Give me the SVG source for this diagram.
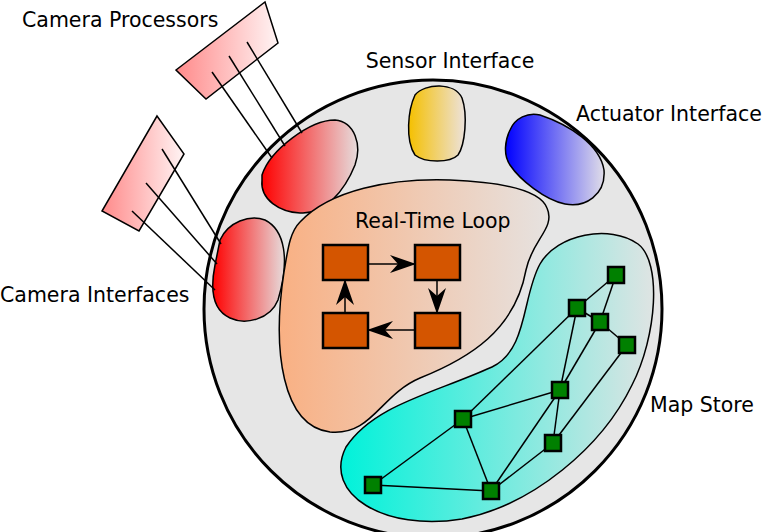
<svg xmlns="http://www.w3.org/2000/svg" width="763" height="532" viewBox="0 0 763 532">
<defs>
<linearGradient id="gRed" x1="0" y1="0" x2="1" y2="0"><stop offset="0" stop-color="#ff0000"/><stop offset="1" stop-color="#e6dcdc"/></linearGradient>
<linearGradient id="gPink" x1="0" y1="0" x2="1" y2="0"><stop offset="0" stop-color="#ff8a8a"/><stop offset="1" stop-color="#fff4f4"/></linearGradient>
<linearGradient id="gYel" x1="0" y1="0" x2="1" y2="0"><stop offset="0" stop-color="#f5c000"/><stop offset="1" stop-color="#ece2dc"/></linearGradient>
<linearGradient id="gBlue" x1="0" y1="0" x2="1" y2="0"><stop offset="0" stop-color="#0000ff"/><stop offset="1" stop-color="#e0dde8"/></linearGradient>
<linearGradient id="gOr" x1="0" y1="0" x2="1" y2="0"><stop offset="0" stop-color="#f9b083"/><stop offset="1" stop-color="#e6e2e0"/></linearGradient>
<linearGradient id="gCy" x1="0" y1="0" x2="1" y2="0"><stop offset="0" stop-color="#00f2da"/><stop offset="1" stop-color="#dfe4e3"/></linearGradient>
<marker id="ah" viewBox="0 0 26 18" refX="25" refY="9" markerWidth="26" markerHeight="18" markerUnits="userSpaceOnUse" orient="auto"><path d="M0,0 L26,9 L0,18 L8,9 Z" fill="#000"/></marker>
</defs>
<style>
text{font-family:"DejaVu Sans",sans-serif;font-size:20.5px;fill:#000}
.o{stroke:#000;stroke-width:1.5}
.sq{fill:#d45500;stroke:#000;stroke-width:2.5}
.gn{fill:#008000;stroke:#000;stroke-width:2.5}
.ln{stroke:#000;stroke-width:1.5;fill:none}
</style>
<g id="body"><circle cx="433" cy="309" r="229" fill="#e6e6e6" stroke="#000" stroke-width="3"/></g>
<g id="processor1"><polygon class="o" points="176,70 265,2 278,43 206,99" fill="url(#gPink)"/></g>
<g id="processor2"><polygon class="o" points="157,116 184,154 139,231 102,211" fill="url(#gPink)"/></g>
<g id="cam1"><path class="o" fill="url(#gRed)" d="M262,175 C270,150 310,120 335,120 C355,122 362,145 355,165 C345,190 325,215 300,213 C280,212 260,200 262,180 Z"/></g>
<g id="cam2"><path class="o" fill="url(#gRed)" d="M220,240 C228,222 250,214 265,220 C285,230 290,260 278,300 C270,320 245,325 230,318 C212,310 210,290 215,265 Z"/></g>
<g id="sensor"><path class="o" fill="url(#gYel)" d="M415,95 C425,83 455,82 462,98 C468,115 465,145 458,155 C450,163 425,163 415,155 C405,140 408,110 415,95 Z"/></g>
<g id="actuator"><path class="o" fill="url(#gBlue)" d="M510,130 C515,118 528,112 540,115 C570,125 600,145 604,170 C606,195 585,208 565,204 C545,200 520,180 510,165 C503,155 505,140 510,130 Z"/></g>
<g id="loop"><path class="o" fill="url(#gOr)" d="M300,222 C330,190 390,178 450,180 C500,182 540,190 547,208 C556,228 532,240 526,270 C515,330 470,358 420,378 C380,395 372,436 330,432 C282,426 272,350 284,272 C288,248 290,232 300,222 Z"/>
<text x="355" y="228">Real-Time Loop</text></g>
<g id="mapstore">
<path class="o" fill="url(#gCy)" d="M346,447 C374,405 432,394 492,367 C528,350 522,296 540,264 C557,234 610,224 638,244 C662,262 657,336 632,385 C602,447 533,505 462,519 C385,532 322,494 346,447 Z"/></g>
<g id="connectors">
<line class="ln" x1="212" y1="72" x2="272" y2="158"/><line class="ln" x1="229" y1="56" x2="285" y2="146"/><line class="ln" x1="247" y1="42" x2="302" y2="133"/>
<line class="ln" x1="162" y1="149" x2="221" y2="244"/><line class="ln" x1="146" y1="183" x2="217" y2="264"/><line class="ln" x1="132" y1="211" x2="215" y2="290"/>
<line class="ln" x1="368" y1="264" x2="415" y2="264" marker-end="url(#ah)"/>
<line class="ln" x1="437" y1="280" x2="437" y2="313" marker-end="url(#ah)"/>
<line class="ln" x1="415" y1="330" x2="368" y2="330" marker-end="url(#ah)"/>
<line class="ln" x1="345" y1="313" x2="345" y2="280" marker-end="url(#ah)"/>
<g class="ln">
<line x1="616" y1="275" x2="577" y2="308"/><line x1="616" y1="275" x2="600" y2="322"/><line x1="577" y1="308" x2="600" y2="322"/><line x1="600" y1="322" x2="627" y2="345"/>
<line x1="577" y1="308" x2="463" y2="419"/><line x1="577" y1="308" x2="560" y2="390"/><line x1="600" y1="322" x2="560" y2="390"/><line x1="560" y1="390" x2="463" y2="419"/>
<line x1="463" y1="419" x2="373" y2="485"/><line x1="463" y1="419" x2="491" y2="491"/><line x1="373" y1="485" x2="491" y2="491"/><line x1="560" y1="390" x2="491" y2="491"/>
<line x1="560" y1="390" x2="553" y2="443"/><line x1="627" y1="345" x2="553" y2="443"/><line x1="553" y1="443" x2="491" y2="491"/>
</g>
</g>
<g id="loopnodes">
<rect class="sq" x="323" y="245" width="45" height="35"/><rect class="sq" x="415" y="245" width="45" height="35"/>
<rect class="sq" x="323" y="313" width="45" height="35"/><rect class="sq" x="415" y="313" width="45" height="35"/>
</g>
<g id="mapnodes">
<rect class="gn" x="608" y="267" width="16" height="16"/><rect class="gn" x="569" y="300" width="16" height="16"/>
<rect class="gn" x="592" y="314" width="16" height="16"/><rect class="gn" x="619" y="337" width="16" height="16"/>
<rect class="gn" x="552" y="382" width="16" height="16"/><rect class="gn" x="455" y="411" width="16" height="16"/>
<rect class="gn" x="545" y="435" width="16" height="16"/><rect class="gn" x="365" y="477" width="16" height="16"/>
<rect class="gn" x="483" y="483" width="16" height="16"/>
</g>
<g id="labels">
<text x="22" y="27">Camera Processors</text>
<text x="450" y="68" text-anchor="middle">Sensor Interface</text>
<text x="576" y="121">Actuator Interface</text>
<text x="0" y="302">Camera Interfaces</text>
<text x="650" y="412">Map Store</text>
</g>
</svg>
